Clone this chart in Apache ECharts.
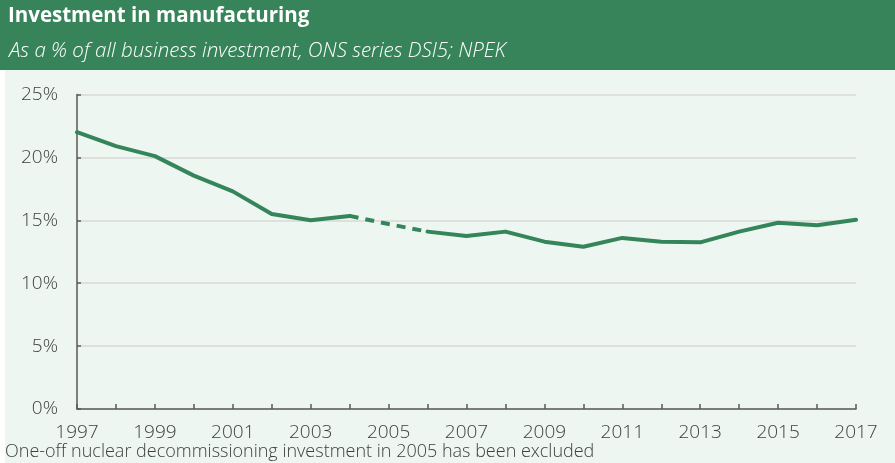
<!DOCTYPE html>
<html>
<head>
<meta charset="utf-8">
<script src="https://cdn.jsdelivr.net/npm/echarts@6/dist/echarts.min.js"></script>
<style>
  html, body { margin: 0; padding: 0; background: #ffffff; }
  #chart { width: 895px; height: 463px; }
</style>
</head>
<body>
<div id="chart"></div>
<script>
// Manufacturing investment as a share of all business investment
const years = ['1997','1998','1999','2000','2001','2002','2003','2004','2005','2006','2007',
               '2008','2009','2010','2011','2012','2013','2014','2015','2016','2017'];
// Solid line (2005 left out; bridged by the dashed segment)
const shareSolid = [22.0, 20.9, 20.1, 18.55, 17.3, 15.5, 15.0, 15.35, null, 14.1, 13.75,
                    14.1, 13.3, 12.9, 13.6, 13.3, 13.25, 14.1, 14.8, 14.6, 15.05];
// Dashed bridge across 2005
const shareDashed = [null, null, null, null, null, null, null, 15.35, 14.7, 14.1, null,
                     null, null, null, null, null, null, null, null, null, null];
const yTicks = [0, 5, 10, 15, 20, 25];

const GREEN = '#35855A';
const FONT = '"Open Sans", "Noto Sans", sans-serif';

const chart = echarts.init(document.getElementById('chart'), null, { renderer: 'canvas' });
chart.setOption({
  animation: false,
  backgroundColor: '#ffffff',
  graphic: [
    { type: 'rect', z: -10, shape: { x: 5, y: 70, width: 890, height: 393 }, style: { fill: '#EDF6F0' } },
    { type: 'rect', z: -10, shape: { x: 0, y: 0, width: 895, height: 70 }, style: { fill: '#37845B' } },
    { type: 'text', left: 8, top: 6, style: { text: 'Investment in manufacturing', fill: '#ffffff',
        font: 'bold 20.5px ' + FONT } },
    { type: 'text', left: 9, top: 41, style: { text: 'As a % of all business investment, ONS series DSI5; NPEK',
        fill: '#ffffff', font: 'italic 300 20.5px ' + FONT } },
    { type: 'text', left: 5, top: 443, style: { text: 'One-off nuclear decommissioning investment in 2005 has been excluded',
        fill: '#404040', font: '300 18px ' + FONT } }
  ],
  grid: { left: 77, right: 39, top: 94.5, bottom: 54, containLabel: false },
  xAxis: {
    type: 'category',
    data: years,
    boundaryGap: false,
    axisLine: { lineStyle: { color: '#595959', width: 1.5 } },
    axisTick: { inside: true, length: 5, interval: 0, lineStyle: { color: '#595959', width: 1.5 } },
    axisLabel: { interval: 1, margin: 14, color: '#404040', fontSize: 19, fontFamily: FONT, fontWeight: 300 },
    splitLine: { show: false }
  },
  yAxis: {
    type: 'value',
    min: 0, max: 25, interval: 5,
    axisLine: { show: true, lineStyle: { color: '#595959', width: 1.5 } },
    axisTick: { show: true, inside: true, length: 4, lineStyle: { color: '#595959', width: 1.5 } },
    axisLabel: {
      margin: 19, color: '#404040', fontSize: 19, fontFamily: FONT, fontWeight: 300,
      formatter: v => (yTicks.indexOf(v) >= 0 ? v + '%' : '')
    },
    splitLine: { lineStyle: { color: '#D9D9D9', width: 1.5 } }
  },
  series: [
    {
      type: 'line', data: shareSolid, connectNulls: false, symbol: 'none',
      lineStyle: { color: GREEN, width: 4, cap: 'round', join: 'round' }
    },
    {
      type: 'line', data: shareDashed, connectNulls: false, symbol: 'none',
      lineStyle: { color: GREEN, width: 4, type: [9, 7], cap: 'butt' }
    }
  ]
});
</script>
</body>
</html>
